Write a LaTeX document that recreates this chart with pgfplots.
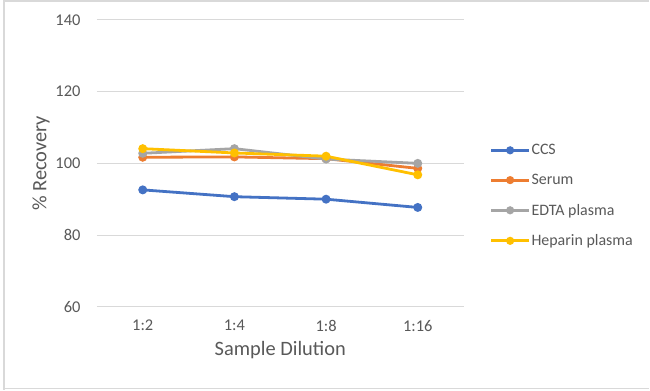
\documentclass[border=0pt]{standalone}
\usepackage{pgfplots}
\pgfplotsset{compat=1.18}
\usepackage{fontspec}
\setmainfont{Carlito}
\definecolor{cblue}{HTML}{4472C4}
\definecolor{corange}{HTML}{ED7D31}
\definecolor{cgray}{HTML}{A5A5A5}
\definecolor{cgold}{HTML}{FFC000}
\definecolor{ctext}{HTML}{595959}
\definecolor{cgrid}{HTML}{D9D9D9}
\begin{document}
\begin{tikzpicture}[x=1bp,y=1bp]
\path[fill=white] (0,0) rectangle (650,391);
\draw[cgrid, line width=1.2bp] (4,1) -- (4,390) -- (650,390);
\draw[cgrid, line width=1.2bp] (4,2) -- (650,2);
\begin{axis}[
  at={(97bp,84bp)}, anchor=south west,
  scale only axis, width=367bp, height=287bp,
  xmin=-0.5, xmax=3.5, ymin=60, ymax=140,
  ytick={60,80,100,120,140},
  xtick={0,1,2,3}, xticklabels={1:2,1:4,1:8,1:16},
  axis line style={draw=none},
  major tick length=0pt,
  ymajorgrids, grid style={cgrid, line width=1bp},
  tick label style={font=\fontsize{16.5}{19}\selectfont, text=ctext},
  /pgf/number format/assume math mode=true,
  yticklabel style={xshift=-13bp},
  xticklabel style={yshift=-10bp},
  xlabel={Sample Dilution}, ylabel={\% Recovery},
  label style={font=\fontsize{20.5}{23}\selectfont, text=ctext},
  xlabel style={yshift=-3bp},
  ylabel style={yshift=-1bp},
  legend style={at={(1,0.387)}, anchor=west, xshift=26bp, draw=none,
    font=\fontsize{16}{18}\selectfont, text=ctext, row sep=16bp,
    legend cell align=left, inner sep=0pt,
    nodes={inner sep=1bp}},
  legend image code/.code={
    \draw[#1, line width=2.8bp] (0bp,0bp) -- (38bp,0bp);
    \fill[#1] (19bp,0bp) circle (2.6bp);
  },
  every axis plot/.append style={line width=2.8bp, mark=*, mark size=3bp},
]
\addplot[cblue, mark options={fill=cblue}] coordinates {(0,92.6) (1,90.7) (2,90.0) (3,87.7)};
\addplot[corange, mark options={fill=corange}] coordinates {(0,101.7) (1,101.8) (2,101.3) (3,98.6)};
\addplot[cgray, mark options={fill=cgray}] coordinates {(0,102.8) (1,104.1) (2,101.2) (3,100.0)};
\addplot[cgold, mark options={fill=cgold}] coordinates {(0,104.1) (1,102.9) (2,102.0) (3,96.8)};
\legend{CCS, Serum, EDTA plasma, Heparin plasma}
\end{axis}
\end{tikzpicture}
\end{document}
